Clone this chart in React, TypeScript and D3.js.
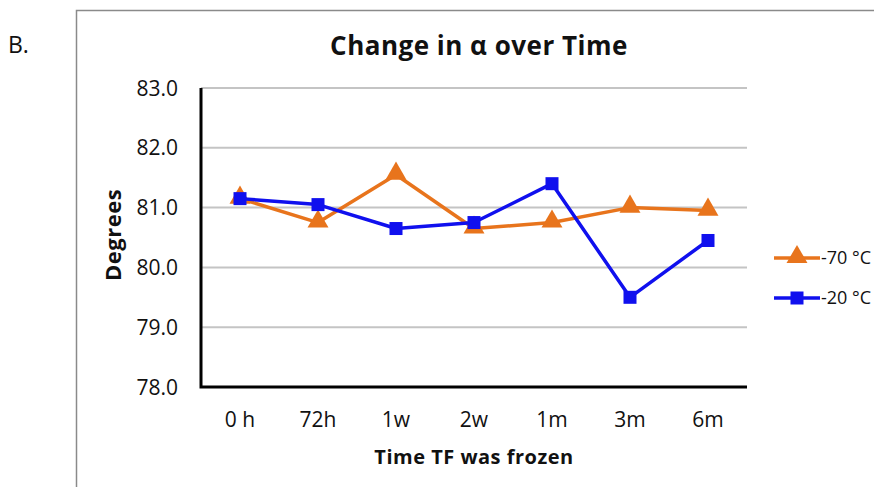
import React from "react";
import * as d3 from "d3";

const categories = ["0 h", "72h", "1w", "2w", "1m", "3m", "6m"];
const seriesNames = ["-70 °C", "-20 °C"];
const minus70 = [81.15, 80.75, 81.55, 80.65, 80.75, 81.0, 80.95];
const minus20 = [81.15, 81.05, 80.65, 80.75, 81.4, 79.5, 80.45];
const yTicks = [78, 79, 80, 81, 82, 83];

const ORANGE = "#E8741C";
const BLUE = "#1010EE";
const FONT = "'Open Sans', 'Liberation Sans', sans-serif";

export default function App() {
  const W = 874, H = 487;
  const left = 201, right = 747, top = 88, bottom = 387;
  const x = d3.scaleBand<string>().domain(categories).range([left, right]);
  const y = d3.scaleLinear().domain([78, 83]).range([bottom, top]);
  const cx = (c: string) => (x(c) as number) + x.bandwidth() / 2;
  const line = d3.line<number>().x((_, i) => cx(categories[i])).y((v) => y(v));
  const tri = d3.symbol().type(d3.symbolTriangle).size(190);
  const series = [
    { name: seriesNames[0], data: minus70, color: ORANGE, shape: "tri" },
    { name: seriesNames[1], data: minus20, color: BLUE, shape: "sq" },
  ];
  const marker = (shape: string, color: string, px: number, py: number, key: any) =>
    shape === "tri" ? (
      <path key={key} d={tri() as string} transform={`translate(${px},${py - 1})`} fill={color} />
    ) : (
      <rect key={key} x={px - 6.5} y={py - 6.5} width={13} height={13} fill={color} />
    );
  return (
    <svg width={W} height={H} style={{ position: "absolute", left: 0, top: 0, background: "#fff" }} fontFamily={FONT}>
      <text x={8} y={53} fontSize={23} fill="#111">B.</text>
      <path d={`M76.5,${H} V10.5 H${W}`} fill="none" stroke="#8a8a8a" strokeWidth={1.5} />
      <text x={479} y={55} textAnchor="middle" fontSize={26} fontWeight="bold" fill="#111" letterSpacing={0.5}>
        Change in α over Time
      </text>
      {yTicks.map((t) => (
        <g key={t}>
          {t > 78 && (
            <line x1={left} x2={right} y1={y(t)} y2={y(t)} stroke="#c4c4c4" strokeWidth={2} />
          )}
          <text x={178} y={y(t)} dy="0.36em" textAnchor="end" fontSize={21} fill="#111">
            {t.toFixed(1)}
          </text>
        </g>
      ))}
      <path d={`M${left},${top} V${bottom} H${right}`} fill="none" stroke="#000" strokeWidth={3} />
      {categories.map((c) => (
        <text key={c} x={cx(c)} y={427} textAnchor="middle" fontSize={21} fill="#111">
          {c}
        </text>
      ))}
      <text x={474} y={464} textAnchor="middle" fontSize={20} fontWeight="bold" fill="#111" letterSpacing={0.5}>
        Time TF was frozen
      </text>
      <text transform={`translate(121,${235}) rotate(-90)`} textAnchor="middle" fontSize={22} fontWeight="bold" fill="#111" letterSpacing={0.5}>
        Degrees
      </text>
      {series.map((s) => (
        <g key={s.name}>
          <path d={line(s.data) as string} fill="none" stroke={s.color} strokeWidth={3.5} strokeLinejoin="round" />
          {s.data.map((v, i) => marker(s.shape, s.color, cx(categories[i]), y(v), i))}
        </g>
      ))}
      {series.map((s, i) => {
        const ly = 258 + i * 40;
        return (
          <g key={"lg" + s.name}>
            <line x1={774} x2={820} y1={ly} y2={ly} stroke={s.color} strokeWidth={3.5} />
            {marker(s.shape, s.color, 797, ly, "m")}
            <text x={821} y={ly} dy="0.36em" fontSize={18} fill="#111">
              {s.name}
            </text>
          </g>
        );
      })}
    </svg>
  );
}
